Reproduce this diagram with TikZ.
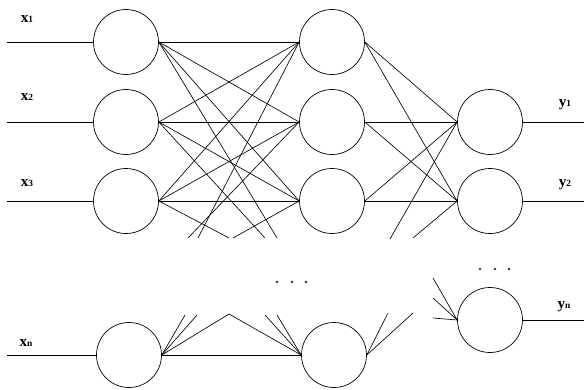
\documentclass[tikz,border=0pt]{standalone}
\usepackage{fontspec}
\newfontfamily\lblfont{Liberation Serif}
\usetikzlibrary{positioning}
\tikzset{
  neuron/.style={circle, draw, line width=0.6pt, minimum size=1.95cm, inner sep=0pt},
  wire/.style={line width=0.55pt},
  lbl/.style={font=\lblfont\bfseries\fontsize{13}{13}\selectfont, inner sep=0pt},
  dotm/.style={fill=black!80}
}
\newcommand{\nnlbl}[2]{#1{\fontsize{8}{8}\selectfont #2}}

\begin{document}
\begin{tikzpicture}[x=0.03cm, y=-0.03cm]
\useasboundingbox (0,0) rectangle (584,389);

% ---- neurons of the three layers ----
\node[neuron] (i1) at (126,42)  {};
\node[neuron] (i2) at (126,122) {};
\node[neuron] (i3) at (126,201) {};
\node[neuron] (in) at (129,355) {};
\node[neuron] (h1) at (332,42)  {};
\node[neuron] (h2) at (332,122) {};
\node[neuron] (h3) at (332,201) {};
\node[neuron] (hn) at (334,355) {};
\node[neuron] (o1) at (490,122) {};
\node[neuron] (o2) at (490,201) {};
\node[neuron] (on) at (490,320) {};

% ---- labels ----
\node[lbl] (lx1) at (27,19)  {\nnlbl{x}{1}};
\node[lbl] (lx2) at (27,97)  {\nnlbl{x}{2}};
\node[lbl] (lx3) at (27,183) {\nnlbl{x}{3}};
\node[lbl] (lxn) at (26,343) {\nnlbl{x}{n}};
\node[lbl] (ly1) at (565,105) {\nnlbl{y}{1}};
\node[lbl] (ly2) at (565,185) {\nnlbl{y}{2}};
\node[lbl] (lyn) at (564,307) {\nnlbl{y}{n}};

% ---- inputs and outputs ----
\foreach \n/\y in {1/42,2/122,3/201,n/355}{
  \coordinate (xin\n) at (7,\y);
  \draw[wire] (xin\n) -- (i\n.west);
}
\foreach \n/\y in {1/122,2/201,n/320}{
  \coordinate (yout\n) at (584,\y);
  \draw[wire] (o\n.east) -- (yout\n);
}

% ---- full connections between the drawn neurons ----
\foreach \a in {1,2,3}{\foreach \b in {1,2,3}{\draw[wire] (i\a.east) -- (h\b.west);}}
\foreach \a in {1,2,3}{\foreach \b in {1,2}{\draw[wire] (h\a.east) -- (o\b.west);}}
\draw[wire] (in.east) -- (hn.west);

% ---- connections broken off above the gap ----
\coordinate (ci1) at (277,238);
\coordinate (ci2) at (265,238);
\coordinate (ci3) at (229,238);
\coordinate (ch1) at (198,238);
\coordinate (ch2) at (188,238);
\coordinate (ch3) at (233,238);
\coordinate (co1) at (390,239);
\coordinate (co2) at (413,238);
\foreach \n in {1,2,3}{\draw[wire] (i\n.east) -- (ci\n); \draw[wire] (h\n.west) -- (ch\n);}
\draw[wire] (co1) -- (o1.west);
\draw[wire] (co2) -- (o2.west);

% ---- connections broken off below the gap ----
\coordinate (cn1) at (185,315);
\coordinate (cn2) at (197,315);
\coordinate (cn3) at (229,314);
\coordinate (cm1) at (265,315);
\coordinate (cm2) at (277,315);
\coordinate (cm3) at (229,314);
\coordinate (cr1) at (388,313);
\coordinate (cr2) at (413,313);
\coordinate (cq1) at (433,278);
\coordinate (cq2) at (433,298);
\coordinate (cq3) at (433,318);
\foreach \n in {1,2,3}{\draw[wire] (in.east) -- (cn\n); \draw[wire] (hn.west) -- (cm\n); \draw[wire] (cq\n) -- (on.west);}
\foreach \n in {1,2}{\draw[wire] (hn.east) -- (cr\n);}

% ---- ellipsis dots ----
\foreach \x in {277,292,306}{\fill[dotm] (\x,282) circle (1.3);}
\foreach \x in {480,495,509}{\fill[dotm] (\x,269) circle (1.3);}
\end{tikzpicture}
\end{document}
